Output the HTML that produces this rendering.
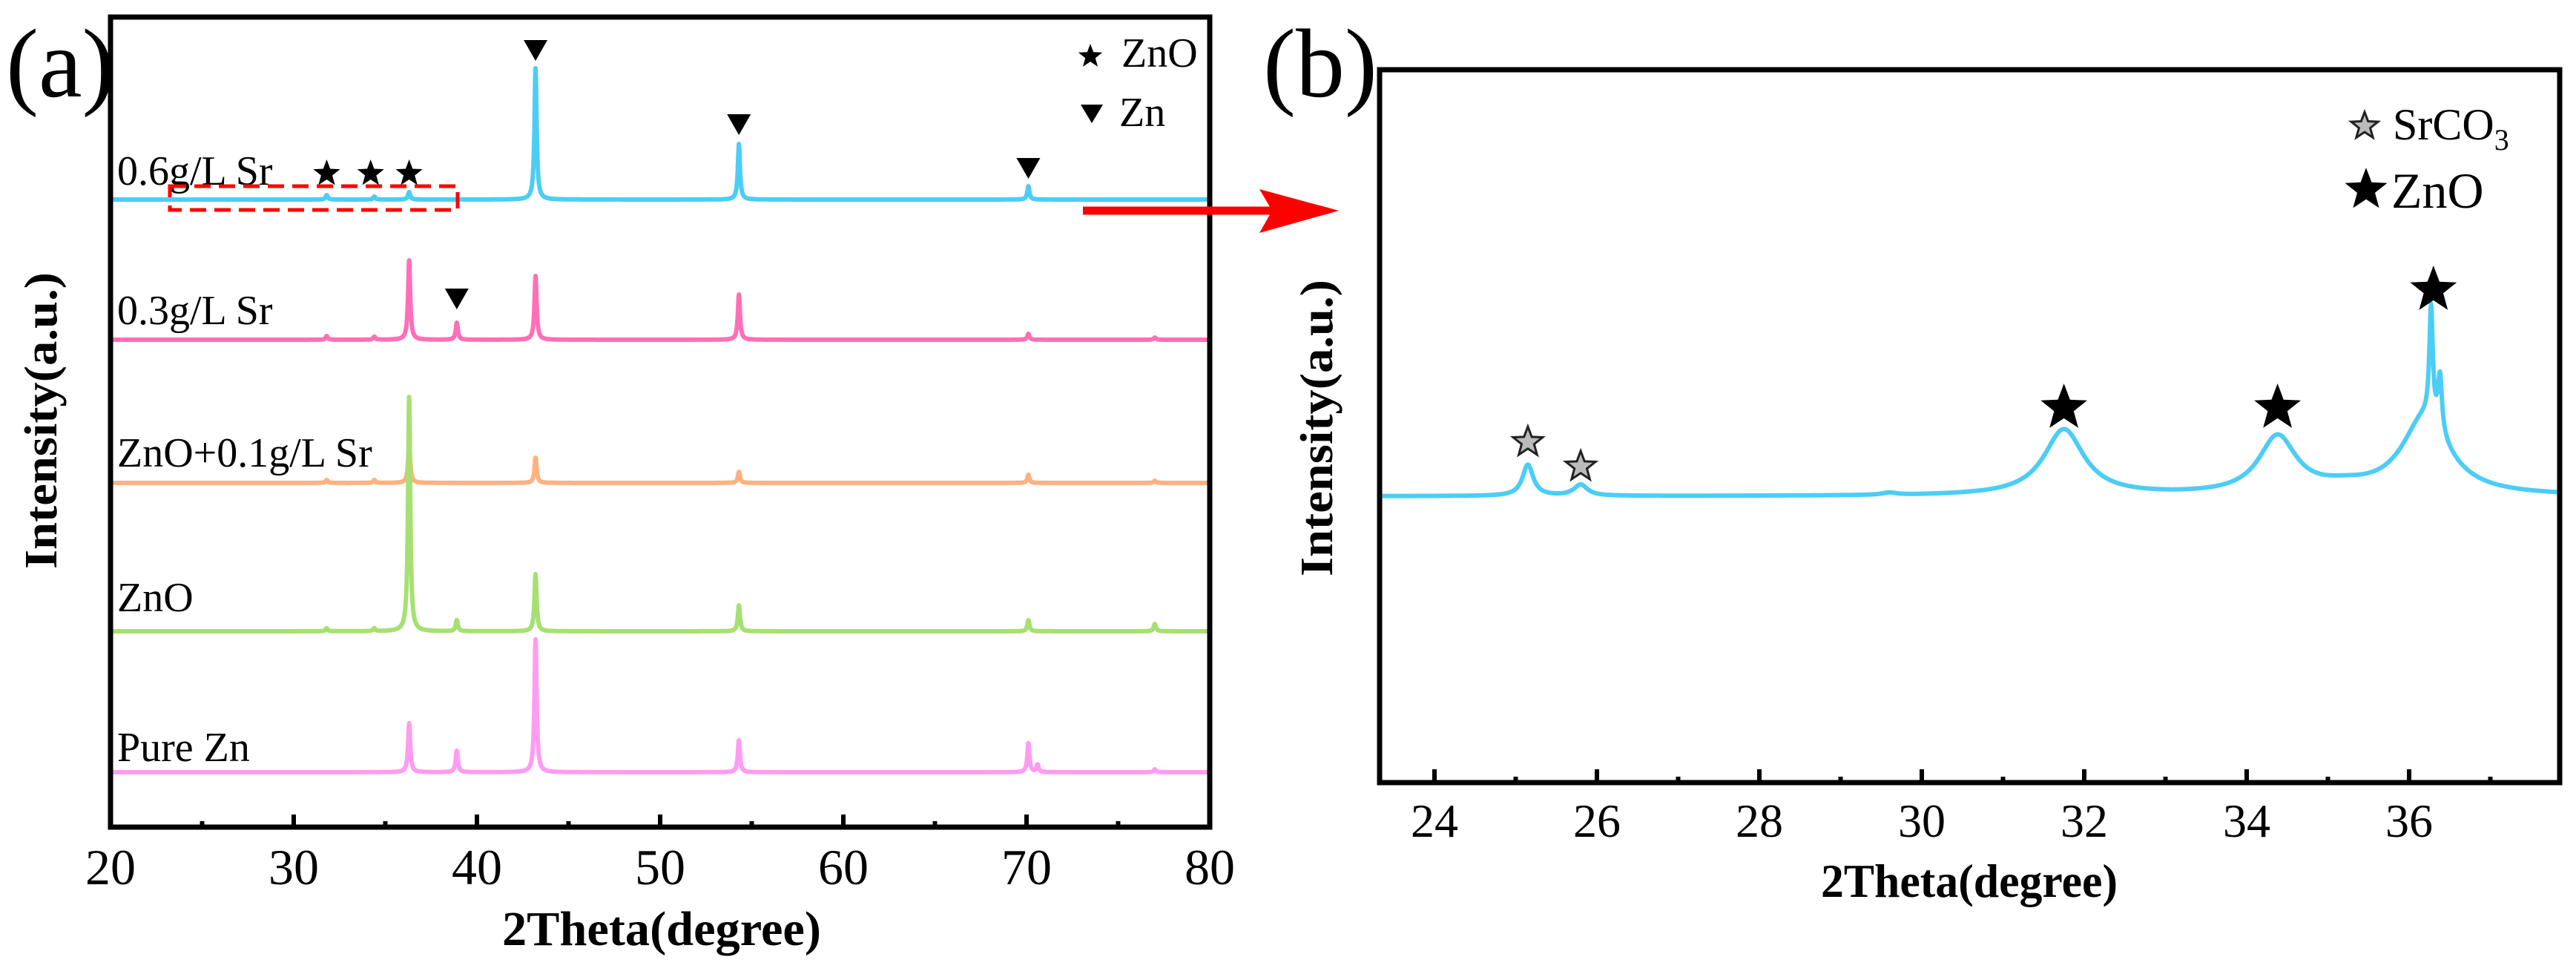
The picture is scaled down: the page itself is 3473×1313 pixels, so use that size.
<!DOCTYPE html>
<html><head><meta charset="utf-8"><style>
html,body{margin:0;padding:0;background:#fff;}
svg{display:block;}
text{font-family:"Liberation Serif","Times New Roman","DejaVu Serif",serif;fill:#000;}
</style></head><body>
<svg id="fig" width="3473" height="1313" viewBox="0 0 3473 1313" xmlns="http://www.w3.org/2000/svg">
<g id="panelA"></g>
<g id="panelB"></g>
</svg>
<script>
// ---------- Panel (a) data ----------
const aSeriesNames = ["0.6g/L Sr","0.3g/L Sr","ZnO+0.1g/L Sr","ZnO","Pure Zn"];
const aSeriesColors = ["#4ccdf5","#ff6fb8","#ffb27f","#a6e072","#ff9cf2"];
const aOffsets = [772, 583, 390, 190, 0];            // vertical stack offsets (a.u.)
const aPeaks06 = [[31.8,6],[34.4,4],[36.3,10],[43.2,177],[54.3,75],[70.1,18]];
const aPeaks03 = [[31.8,5],[34.4,4],[36.3,107],[38.9,23],[43.2,86],[54.3,61],[70.1,8],[77,3]];
const aPeaks01 = [[31.8,4],[34.4,4],[36.3,53],[43.2,34],[54.3,15],[70.1,11],[77,3]];
const aPeaksZnO = [[31.8,4],[34.4,4],[36.3,316],[38.9,15],[43.2,77],[54.3,35],[70.1,15],[77,10]];
const aPeaksZn = [[36.3,66],[38.9,29],[43.2,179],[54.3,43],[70.1,39],[70.6,10],[77,4]];
const aXTicks = [20,30,40,50,60,70,80];
// ---------- Panel (b) data ----------
const bPeaks = [[25.15,42,0.08],[25.8,15,0.1],[29.6,3,0.1],[31.75,89,0.3],[34.38,77,0.28],[35.2,8,0.4],[36.2,105,0.35],[36.27,150,0.025],[36.38,75,0.03]];
const bXTicks = [24,26,28,30,32,34,36];
const bOpenStars = [[25.15,73],[25.8,40]];
const bFilledStars = [[31.75,119],[34.38,119],[36.3,278]];

const NS="http://www.w3.org/2000/svg";
const SERIF='"Liberation Serif","Times New Roman","DejaVu Serif",serif';
function el(tag,attrs,parent){const e=document.createElementNS(NS,tag);for(const k in attrs)e.setAttribute(k,attrs[k]);if(tag==='text')e.setAttribute('font-family',SERIF);parent.appendChild(e);return e;}
function star(cx,cy,r){let p=[];for(let i=0;i<10;i++){const rr=i%2?r*0.42:r;const a=-Math.PI/2+i*Math.PI/5;p.push((cx+rr*Math.cos(a)).toFixed(1)+","+(cy+rr*Math.sin(a)).toFixed(1));}return p.join(" ");}
function prof(x,peaks,defW){let s=0;for(const p of peaks){const w=p[2]||defW;const d=(x-p[0])/w;s+=p[1]/(1+d*d);}return s;}

// ---- Panel A ----
const A=document.getElementById('panelA');
const aL=149,aR=1631,aT=23,aB=1115;
const ax=v=>aL+(v-20)/60*(aR-aL);
const ay=v=>1041-v;
const aPeakSets=[aPeaks06,aPeaks03,aPeaks01,aPeaksZnO,aPeaksZn];
aPeakSets.forEach((pk,i)=>{
  let d="";
  for(let x=20.05;x<=79.95;x+=0.01){const v=aOffsets[i]+prof(x,pk,0.07);d+=(d?"L":"M")+ax(x).toFixed(1)+","+ay(v).toFixed(1);}
  const p=el('path',{d:d,fill:"none",stroke:aSeriesColors[i],"stroke-width":6,"stroke-linejoin":"round"},A);
  
  
});
const aLabelY=[249,437,629,824,1026];
aSeriesNames.forEach((n,i)=>{
  const t=el('text',{x:158,y:aLabelY[i],"font-size":56},A);t.textContent=n;
  
  
});
const dr=el('rect',{x:229,y:251,width:388,height:32,fill:"none",stroke:"#f00","stroke-width":5,"stroke-dasharray":"22,11"},A);

const fa=el('rect',{x:aL,y:aT,width:aR-aL,height:aB-aT,fill:"none",stroke:"#000","stroke-width":7},A);

aXTicks.forEach((v,i)=>{
  const x=ax(v);
  el('line',{x1:x,y1:aB,x2:x,y2:aB-17,stroke:"#000","stroke-width":6},A);
  if(i<aXTicks.length-1){const xm=ax(v+5);el('line',{x1:xm,y1:aB,x2:xm,y2:aB-8,stroke:"#000","stroke-width":6},A);}
  const t=el('text',{x:x,y:1192,"font-size":68,"text-anchor":"middle"},A);t.textContent=v;
  
});
const aTri=[[43.2,67],[54.3,167],[70.1,226],[38.9,402]];
aTri.forEach(p=>{const x=ax(p[0]),y=p[1];const t=el('polygon',{points:`${x-16},${y-13} ${x+16},${y-13} ${x},${y+15}`,fill:"#000"},A);});
const aStars=[31.8,34.2,36.3];
aStars.forEach(v=>{const s=el('polygon',{points:star(ax(v),234,19),fill:"#000"},A);});
let s=el('polygon',{points:star(1470,76,17),fill:"#000"},A);
let t=el('text',{x:1512,y:90,"font-size":56},A);t.textContent="ZnO";
s=el('polygon',{points:"1457,141 1487,141 1472,166",fill:"#000"},A);
t=el('text',{x:1509,y:170,"font-size":56},A);t.textContent="Zn";
t=el('text',{x:8,y:130,"font-size":132},A);t.textContent="(a)";
t=el('text',{x:0,y:0,"font-size":62,"font-weight":"bold","text-anchor":"middle",transform:"translate(76,567) rotate(-90)",textLength:400,lengthAdjust:"spacingAndGlyphs"},A);t.textContent="Intensity(a.u.)";
t=el('text',{x:892,y:1274,"font-size":66,"font-weight":"bold","text-anchor":"middle",textLength:430,lengthAdjust:"spacingAndGlyphs"},A);t.textContent="2Theta(degree)";
const ar=el('g',{},A);
el('line',{x1:1460,y1:284,x2:1715,y2:284,stroke:"#f00","stroke-width":11},ar);
el('polygon',{points:"1805,284 1698,255 1715,284 1698,314",fill:"#f00"},ar);

// ---- Panel B ----
const B=document.getElementById('panelB');
const bL=1860,bR=3451,bT=94,bB=1055;
const bx=v=>3248+(v-36)*109.5;
const by=v=>669-v;
let d="";
for(let x=23.33;x<=37.84;x+=0.005){const v=prof(x,bPeaks,0.1);d+=(d?"L":"M")+bx(x).toFixed(1)+","+by(v).toFixed(1);}
const bp=el('path',{d:d,fill:"none",stroke:"#4ccdf5","stroke-width":6,"stroke-linejoin":"round"},B);

const fb=el('rect',{x:bL,y:bT,width:bR-bL,height:bB-bT,fill:"none",stroke:"#000","stroke-width":7},B);

bXTicks.forEach(v=>{
  const x=bx(v);
  el('line',{x1:x,y1:bB,x2:x,y2:bB-18,stroke:"#000","stroke-width":6},B);
  const xm=bx(v+1);el('line',{x1:xm,y1:bB,x2:xm,y2:bB-8,stroke:"#000","stroke-width":6},B);
  const tt=el('text',{x:x,y:1128,"font-size":64,"text-anchor":"middle"},B);tt.textContent=v;
  
});
bOpenStars.forEach(p=>{const ss=el('polygon',{points:star(bx(p[0]),by(p[1]),21),fill:"#bbb",stroke:"#222","stroke-width":3},B);});
bFilledStars.forEach(p=>{const ss=el('polygon',{points:star(bx(p[0]),by(p[1]),33),fill:"#000"},B);});
s=el('polygon',{points:star(3188,170,19),fill:"#bbb",stroke:"#222","stroke-width":3},B);
t=el('text',{x:3226,y:188,"font-size":60},B);t.innerHTML='SrCO<tspan font-size="40" dy="14">3</tspan>';
s=el('polygon',{points:star(3190,256,30),fill:"#000"},B);
t=el('text',{x:3224,y:280,"font-size":68},B);t.textContent="ZnO";
t=el('text',{x:1703,y:130,"font-size":132},B);t.textContent="(b)";
t=el('text',{x:0,y:0,"font-size":62,"font-weight":"bold","text-anchor":"middle",transform:"translate(1796,577) rotate(-90)",textLength:400,lengthAdjust:"spacingAndGlyphs"},B);t.textContent="Intensity(a.u.)";
t=el('text',{x:2655,y:1209,"font-size":64,"font-weight":"bold","text-anchor":"middle",textLength:400,lengthAdjust:"spacingAndGlyphs"},B);t.textContent="2Theta(degree)";
</script>
</body></html>
